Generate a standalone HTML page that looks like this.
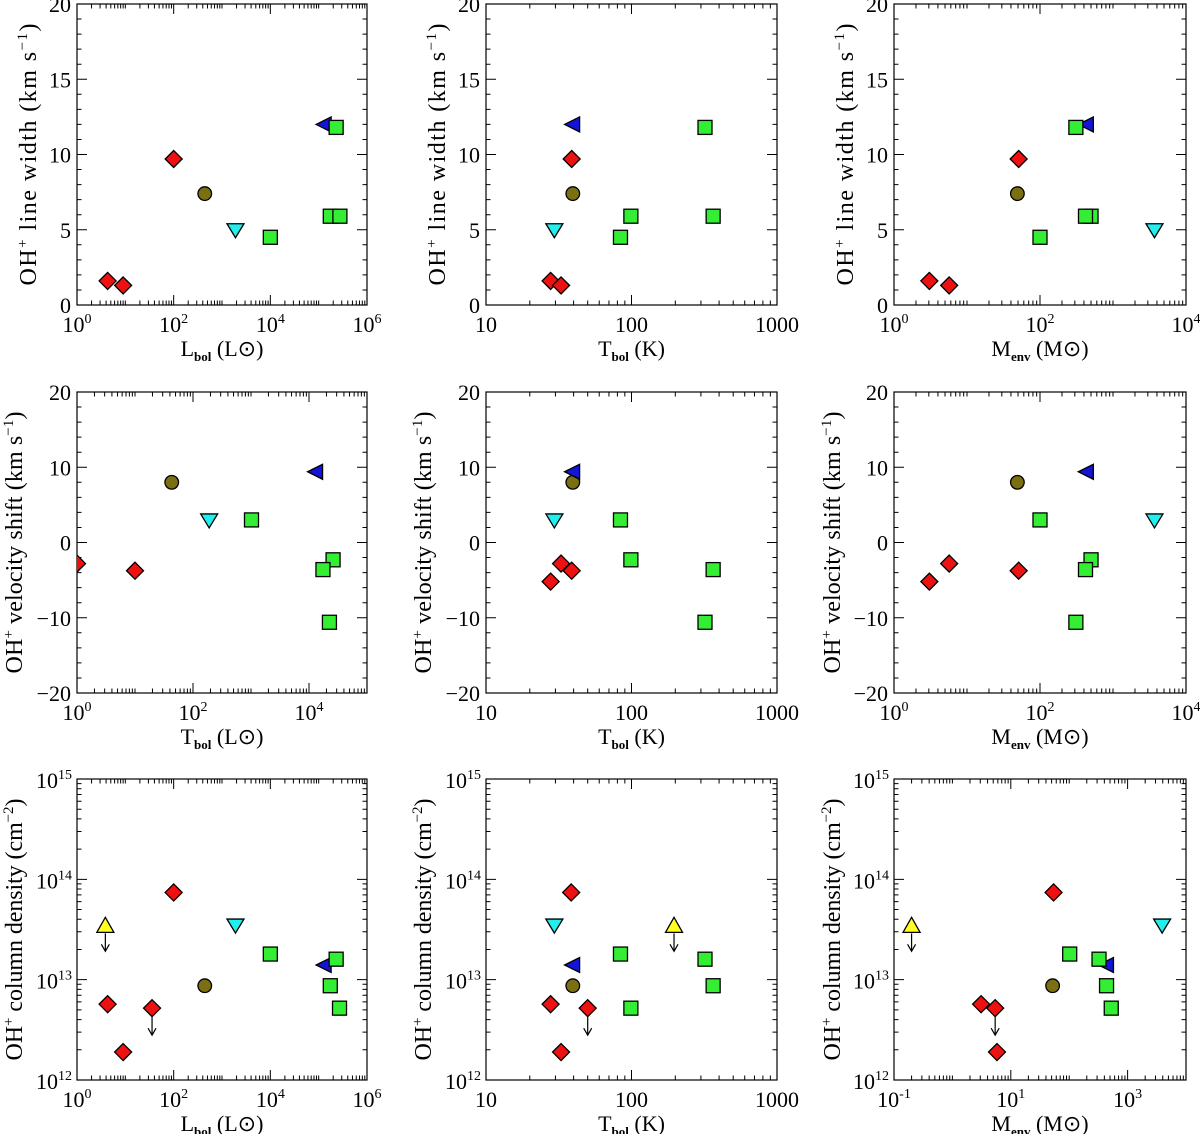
<!DOCTYPE html>
<html><head><meta charset="utf-8">
<style>
html,body{margin:0;padding:0;background:#fff;}
svg{display:block;font-family:"Liberation Serif",serif;}
</style></head>
<body>
<svg id="fig" width="1200" height="1134" viewBox="0 0 1200 1134" xmlns="http://www.w3.org/2000/svg"></svg>
<script>
// ---------- data ----------
const typesTop = ['d','d','d','c','v','<','s','s','s','s'];
const lbolTop = [4.3, 9, 100, 440, 1900, 1.36e5, 1e4, 2.3e5, 1.74e5, 2.75e5];
const tbolTop = [27.8, 32.8, 38.8, 39.5, 29.5, 40, 84, 320, 99, 364];
const menvTop = [3.05, 5.7, 51, 49, 3700, 445, 100, 310, 500, 420];
const lineWidth = [1.6, 1.3, 9.7, 7.4, 5.0, 12.0, 4.5, 11.8, 5.9, 5.9];
const velShift = [-5.2, -2.8, -3.75, 8.0, 3.0, 9.4, 3.0, -10.6, -2.3, -3.6];
const xMidLeft = [0.3, 1.0, 10, 43, 190, 1.35e4, 1020, 2.25e4, 2.6e4, 1.74e4];

const typesBot = ['d','d','d','dl','c','v','<','s','s','s','s','yl'];
const lbolBot = [4.3, 9, 100, 35.7, 440, 1900, 1.36e5, 1e4, 2.3e5, 2.7e5, 1.74e5, 3.86];
const tbolBot = [27.8, 32.8, 38.5, 50, 39.5, 29.5, 40, 84, 320, 99, 364, 196];
const menvBot = [3.1, 5.8, 54, 5.4, 52, 3900, 452, 102, 324, 525, 436, 0.2];
const colDens = [5.7e12, 1.9e12, 7.4e13, 5.2e12, 8.7e12, 3.5e13, 1.4e13, 1.8e13, 1.6e13, 5.2e12, 8.7e12, 3.4e13];

const cols = [[77,367],[486,777],[894,1186]];
const rows = [[4,305],[392,693],[779,1080]];

const NS='http://www.w3.org/2000/svg';
const svg=document.getElementById('fig');
function mk(tag,attrs,parent){const e=document.createElementNS(NS,tag);for(const k in attrs)e.setAttribute(k,attrs[k]);(parent||svg).appendChild(e);return e;}

const COL={d:'#ee1111',dl:'#ee1111',c:'#7a7012',v:'#22eeee','<':'#1414d8',s:'#33ee33',yl:'#ffff22'};

function marker(g,t,x,y){
  let e;
  const st={fill:COL[t],stroke:'#000','stroke-width':1.3};
  if(t==='d'||t==='dl'){e=mk('polygon',Object.assign({points:`${x},${y-8.5} ${x+8.5},${y} ${x},${y+8.5} ${x-8.5},${y}`},st),g);}
  else if(t==='c'){e=mk('circle',Object.assign({cx:x,cy:y,r:6.8},st),g);}
  else if(t==='v'){e=mk('polygon',Object.assign({points:`${x-8.5},${y-6} ${x+8.5},${y-6} ${x},${y+8}`},st),g);}
  else if(t==='<'){e=mk('polygon',Object.assign({points:`${x-9},${y} ${x+6},${y-7.5} ${x+6},${y+7.5}`},st),g);}
  else if(t==='s'){e=mk('rect',Object.assign({x:x-7,y:y-7,width:14,height:14},st),g);}
  else if(t==='yl'){e=mk('polygon',Object.assign({points:`${x},${y-9} ${x+8.5},${y+6} ${x-8.5},${y+6}`},st),g);}
  
  
  if(t==='dl'||t==='yl'){
    const y0=y+(t==='yl'?7:9), y1=y0+18;
    const a=mk('path',{d:`M${x},${y0} L${x},${y1} M${x-4},${y1-7} L${x},${y1} L${x+4},${y1-7}`,stroke:'#000','stroke-width':1.2,fill:'none'},g);
    
    
  }
}

let clipId=0;
function panel(o){
  const [X0,X1]=cols[o.c],[Y0,Y1]=rows[o.r];
  const g=mk('g',{});
  
  
  const lx=Math.log10(o.xr[0]),ux=Math.log10(o.xr[1]);
  const sx=v=>X0+(Math.log10(v)-lx)/(ux-lx)*(X1-X0);
  let sy;
  if(o.ylog){const ly=Math.log10(o.yr[0]),uy=Math.log10(o.yr[1]);sy=v=>Y1-(Math.log10(v)-ly)/(uy-ly)*(Y1-Y0);}
  else sy=v=>Y1-(v-o.yr[0])/(o.yr[1]-o.yr[0])*(Y1-Y0);
  const fr=mk('rect',{x:X0,y:Y0,width:X1-X0,height:Y1-Y0,fill:'none',stroke:'#000','stroke-width':1.2},g);
  
  
  let d='';
  for(let e=Math.floor(lx);e<=Math.ceil(ux);e++){
    for(let m=1;m<10;m++){
      const v=m*Math.pow(10,e);const lv=Math.log10(v);
      if(lv<lx-1e-9||lv>ux+1e-9)continue;
      const px=sx(v);
      const major=(m===1&&((e-Math.round(lx))%o.xstep===0));
      const L=major?10:4.5;
      d+=`M${px},${Y1}v${-L}M${px},${Y0}v${L}`;
      if(major){
        const t=mk('text',{x:px,y:Y1+27,'font-size':22,'text-anchor':'middle'},g);
        
        
        if(o.xplain){t.textContent=String(Math.round(v));}
        else{t.textContent='10';const s=mk('tspan',{dy:-9,'font-size':14},t);s.textContent=String(e);}
      }
    }
  }
  if(o.ylog){
    const ly=Math.log10(o.yr[0]),uy=Math.log10(o.yr[1]);
    for(let e=ly;e<=uy;e++){for(let m=1;m<10;m++){
      const v=m*Math.pow(10,e);if(Math.log10(v)>uy+1e-9)continue;
      const py=sy(v);const major=m===1;const L=major?10:4.5;
      d+=`M${X0},${py}h${L}M${X1},${py}h${-L}`;
      if(major){
        const t=mk('text',{x:X0-5,y:py+9,'font-size':22,'text-anchor':'end'},g);
        
        
        t.textContent='10';const s=mk('tspan',{dy:-9,'font-size':14},t);s.textContent=String(e);
      }
    }}
  } else {
    for(let v=o.yr[0];v<=o.yr[1]+1e-9;v+=o.yminor){
      const py=sy(v);const major=Math.abs(v/o.ymajor-Math.round(v/o.ymajor))<1e-6;const L=major?10:4.5;
      d+=`M${X0},${py}h${L}M${X1},${py}h${-L}`;
      if(major){
        const t=mk('text',{x:X0-6,y:py+8,'font-size':22,'text-anchor':'end'},g);
        
        
        t.textContent=(v<0?'\u2212':'')+Math.abs(Math.round(v));
      }
    }
  }
  const tk=mk('path',{d:d,stroke:'#000','stroke-width':1,fill:'none'},g);
  
  
  const xt=mk('text',{x:(X0+X1)/2,y:Y1+51,'font-size':22,'text-anchor':'middle'},g);
  
  
  xt.appendChild(document.createTextNode(o.xt[0]));
  const sb=mk('tspan',{dy:5,'font-size':13,'font-weight':'bold'},xt);sb.textContent=o.xt[1];
  const rest=mk('tspan',{dy:-5},xt);rest.textContent=o.xt[2];
  const cy=(Y0+Y1)/2;
  const yt=mk('text',{x:0,y:0,'font-size':24,'text-anchor':'middle',transform:`translate(${o.ytx},${cy}) rotate(-90)`,textLength:o.ytl,lengthAdjust:'spacing'},g);
  
  
  yt.appendChild(document.createTextNode('OH'));
  const p=mk('tspan',{dy:-9,'font-size':15},yt);p.textContent='+';
  const q=mk('tspan',{dy:9},yt);q.textContent=' '+o.yt[0];
  const p2=mk('tspan',{dy:-9,'font-size':15},yt);p2.textContent=o.yt[1];
  const q2=mk('tspan',{dy:9},yt);q2.textContent=')';
  clipId++;
  const cp=mk('clipPath',{id:'cp'+clipId},g);
  mk('rect',{x:X0,y:Y0-20,width:X1-X0+20,height:Y1-Y0+60},cp);
  const mg=mk('g',{'clip-path':`url(#cp${clipId})`},g);
  
  
  for(let i=0;i<o.xs.length;i++) marker(mg,o.types[i],sx(o.xs[i]),sy(o.ys[i]));
}

const LB=['L','bol',' (L\u2299)'], TB=['T','bol',' (K)'], ME=['M','env',' (M\u2299)'];
const YW=['line width (km s','\u22121'], YV=['velocity shift (km s','\u22121'], YN=['column density (cm','\u22122'];

panel({name:'panel-width-vs-lbol',c:0,r:0,xr:[1,1e6],xstep:2,yr:[0,20],ymajor:5,yminor:1,xs:lbolTop,ys:lineWidth,types:typesTop,xt:LB,yt:YW,ytx:36,ytl:262});
panel({name:'panel-width-vs-tbol',c:1,r:0,xr:[10,1000],xstep:1,xplain:true,yr:[0,20],ymajor:5,yminor:1,xs:tbolTop,ys:lineWidth,types:typesTop,xt:TB,yt:YW,ytx:445,ytl:262});
panel({name:'panel-width-vs-menv',c:2,r:0,xr:[1,1e4],xstep:2,yr:[0,20],ymajor:5,yminor:1,xs:menvTop,ys:lineWidth,types:typesTop,xt:ME,yt:YW,ytx:853,ytl:262});

panel({name:'panel-shift-vs-lbol',c:0,r:1,xr:[1,1e5],xstep:2,yr:[-20,20],ymajor:10,yminor:2,xs:xMidLeft,ys:velShift,types:typesTop,xt:['T','bol',' (L\u2299)'],yt:YV,ytx:22,ytl:262});
panel({name:'panel-shift-vs-tbol',c:1,r:1,xr:[10,1000],xstep:1,xplain:true,yr:[-20,20],ymajor:10,yminor:2,xs:tbolTop,ys:velShift,types:typesTop,xt:TB,yt:YV,ytx:431,ytl:262});
panel({name:'panel-shift-vs-menv',c:2,r:1,xr:[1,1e4],xstep:2,yr:[-20,20],ymajor:10,yminor:2,xs:menvTop,ys:velShift,types:typesTop,xt:ME,yt:YV,ytx:840,ytl:262});

panel({name:'panel-density-vs-lbol',c:0,r:2,xr:[1,1e6],xstep:2,ylog:true,yr:[1e12,1e15],xs:lbolBot,ys:colDens,types:typesBot,xt:LB,yt:YN,ytx:22,ytl:262});
panel({name:'panel-density-vs-tbol',c:1,r:2,xr:[10,1000],xstep:1,xplain:true,ylog:true,yr:[1e12,1e15],xs:tbolBot,ys:colDens,types:typesBot,xt:TB,yt:YN,ytx:431,ytl:262});
panel({name:'panel-density-vs-menv',c:2,r:2,xr:[0.1,1e4],xstep:2,ylog:true,yr:[1e12,1e15],xs:menvBot,ys:colDens,types:typesBot,xt:ME,yt:YN,ytx:840,ytl:262});
</script>
</body></html>
